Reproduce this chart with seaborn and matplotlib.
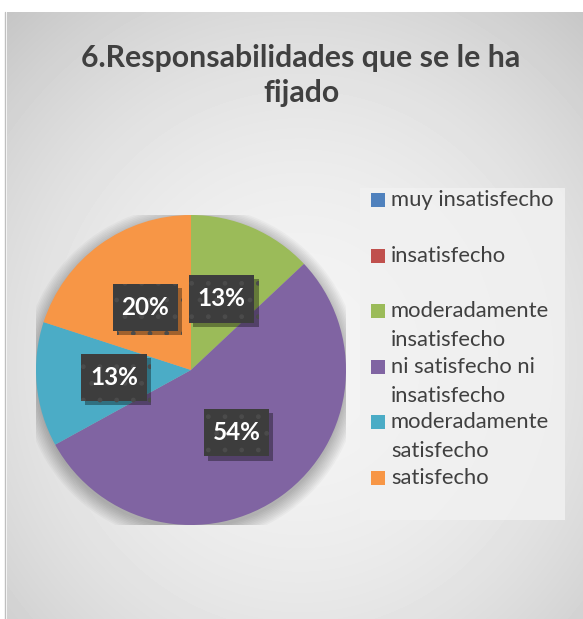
import textwrap
import numpy as np
import matplotlib
matplotlib.use("Agg")
import matplotlib.pyplot as plt
import matplotlib.patheffects as pe
from matplotlib.patches import Rectangle, Circle
from matplotlib.path import Path
import seaborn as sns

# ---- data ----
title = "6.Responsabilidades que se le ha fijado"
categories = ["muy insatisfecho", "insatisfecho", "moderadamente insatisfecho",
              "ni satisfecho ni insatisfecho", "moderadamente satisfecho", "satisfecho"]
values = [0, 0, 13, 54, 13, 20]
colors = ["#4F81BD", "#C0504D", "#9BBB59", "#8064A2", "#4BACC6", "#F79646"]

sns.set_theme(style="white")
plt.rcParams["font.family"] = ["Lato", "DejaVu Sans"]

W, H = 583, 619
fig = plt.figure(figsize=(W / 100, H / 100), dpi=100)
fig.patch.set_facecolor("white")

def fx(x):
    return x / W

def fy(y):
    return 1 - y / H

# ---- background (chart area with soft radial gradient) ----
bg = fig.add_axes([0, 0, 1, 1])
bg.set_xlim(0, W)
bg.set_ylim(H, 0)
bg.axis("off")
x0, y0, x1, y1 = 7, 12, 583, 619
yy, xx = np.mgrid[y0:y1, x0:x1]
cx, cy = 300, 360
d2 = ((xx - cx) / 300.0) ** 2 + ((yy - cy) / 320.0) ** 2
grad = np.clip(0.955 - 0.085 * d2, 0, 1)
bg.imshow(grad, cmap="gray", vmin=0, vmax=1, extent=(x0, x1, y1, y0),
          interpolation="bilinear", aspect="auto")
bg.plot([5, 5], [12, 619], color="#bfbfbf", lw=1)
# legend panel
bg.add_patch(Rectangle((360, 188), 205, 332, facecolor="#f1f1f1", edgecolor="none", alpha=0.85))

# ---- title ----
for k, line in enumerate(textwrap.wrap(title, 33)):
    fig.text(fx(301), fy(58 + 35 * k), line, ha="center", va="center",
             fontsize=21.8, fontweight="bold", color="#404040")

# ---- pie ----
R, PX, PY = 155, 191, 370
ax = fig.add_axes([fx(PX - R), fy(PY + R), 2 * R / W, 2 * R / H])
for i, r in enumerate(np.linspace(1.0, 1.09, 10)):
    ax.add_patch(Circle((0.0, -0.025), r, facecolor="black", alpha=0.028, lw=0, zorder=0))

wedges, texts, autotexts = ax.pie(
    values, colors=colors, startangle=90, counterclock=False,
    autopct=lambda p: f"{p:.0f}%" if p > 0 else "", pctdistance=0.5,
    wedgeprops=dict(linewidth=0),
    textprops=dict(color="white", fontsize=17.5, fontweight="bold"))
ax.set_xlim(-1, 1)
ax.set_ylim(-1, 1)
ax.set_aspect("equal")
ax.axis("off")


def label_box(x0, y0, width, height, mutation_size):
    px, py = 0.36 * mutation_size, 0.5 * mutation_size
    xa, ya, xb, yb = x0 - px, y0 - py, x0 + width + px, y0 + height + py
    return Path([(xa, ya), (xb, ya), (xb, yb), (xa, yb), (xa, ya)], closed=True)


for t in autotexts:
    if t.get_text():
        t.set_bbox(dict(boxstyle=label_box, facecolor="#3d3d3d",
                        edgecolor="#4b4b4b", linewidth=0, hatch="."))
        t.get_bbox_patch().set_path_effects([
            pe.SimplePatchShadow(offset=(3, -3), shadow_rgbFace="black", alpha=0.35),
            pe.Normal()])

# ---- legend (handle aligned to first line, as in the reference) ----
entry_y = 200
for cat, col in zip(categories, colors):
    bg.add_patch(Rectangle((371, entry_y - 7), 14, 14, facecolor=col, edgecolor="none"))
    lines = textwrap.wrap(cat, 16)
    for k, line in enumerate(lines):
        bg.text(391, entry_y + 29 * k, line, ha="left", va="center",
                fontsize=15.8, color="#404040")
    entry_y += 55.6

fig.savefig("out.png", dpi=100, facecolor=fig.get_facecolor())
